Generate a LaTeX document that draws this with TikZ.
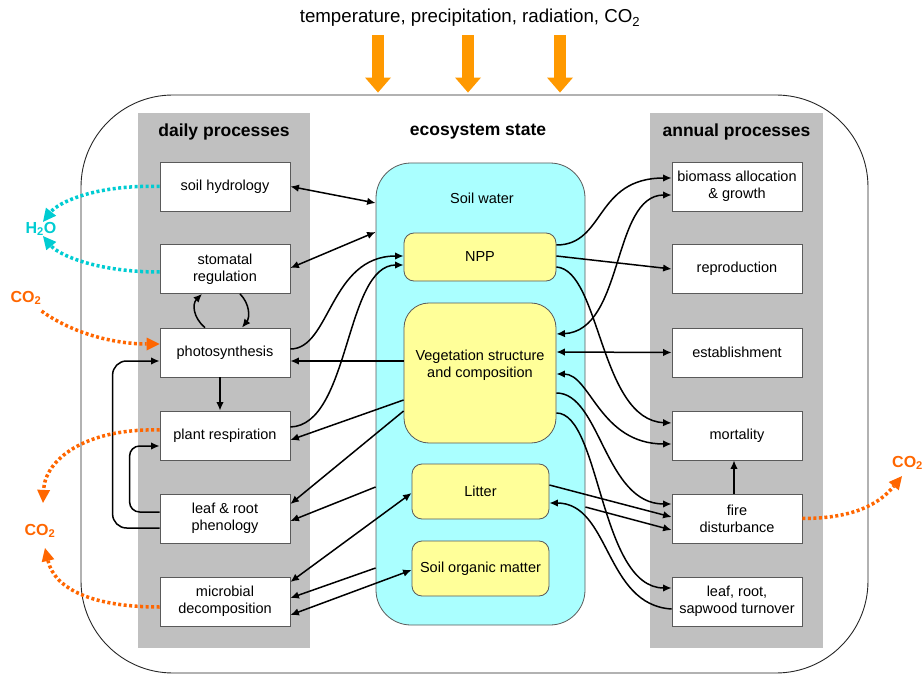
\documentclass[tikz,border=0pt]{standalone}
\usepackage{fontspec}
\setmainfont{Liberation Sans}
\usetikzlibrary{arrows.meta}
\definecolor{colgray}{RGB}{192,192,192}
\definecolor{cyanfill}{RGB}{170,255,255}
\definecolor{yel}{RGB}{255,255,153}
\definecolor{orng}{RGB}{255,153,0}
\definecolor{cotwo}{RGB}{255,102,0}
\definecolor{htwoo}{RGB}{0,204,210}
\definecolor{edgegray}{RGB}{90,90,90}
\begin{document}
\begin{tikzpicture}[x=1pt,y=-1pt,font=\fontsize{14.5}{17}\selectfont,
  procbox/.style={draw=edgegray,line width=0.8pt,fill=white,minimum width=130pt,minimum height=49pt,align=center,inner sep=1pt},
  column/.style={fill=colgray,draw=none,inner sep=0pt},
  heading/.style={font=\bfseries\fontsize{17.5}{20}\selectfont},
  statebox/.style={draw=edgegray,fill=yel,line width=0.8pt,rounded corners=10pt,align=center,inner sep=1pt},
  conn/.style={line width=1.5pt,-{Latex[length=8.5pt,width=7.5pt]}},
  biconn/.style={line width=1.5pt,{Latex[length=8.5pt,width=7.5pt]}-{Latex[length=8.5pt,width=7.5pt]}},
  dotco/.style={draw=cotwo,line width=3.5pt,dash pattern=on 3pt off 2.5pt,-{Triangle[length=13pt,width=13pt,line width=0pt]}},
  dothw/.style={draw=htwoo,line width=3.5pt,dash pattern=on 3pt off 2.5pt,-{Triangle[length=13pt,width=13pt,line width=0pt]}},
  bigarrow/.style={draw=orng,line width=12pt,-{Triangle[length=15pt,width=26pt,line width=0pt]}},
  gaslbl/.style={font=\bfseries\fontsize{16}{18}\selectfont,inner sep=0pt}]
\useasboundingbox (0,0) rectangle (922,674);

% outer ecosystem frame
\node[draw=black!85,line width=0.9pt,rounded corners=92pt,minimum width=787pt,minimum height=578pt,inner sep=0pt] (eco) at (474.5,384) {};

% title and forcing arrows
\node[font=\fontsize{18.7}{22}\selectfont] (title) at (470,18) {temperature, precipitation, radiation, CO\textsubscript{2}};
\draw[bigarrow] ([xshift=-92pt,yshift=-5pt]title.south) -- ([xshift=-96.5pt,yshift=2pt]eco.north);
\draw[bigarrow] ([xshift=-2pt,yshift=-5pt]title.south) -- ([xshift=-6.5pt,yshift=2pt]eco.north);
\draw[bigarrow] ([xshift=90pt,yshift=-5pt]title.south) -- ([xshift=85.5pt,yshift=2pt]eco.north);

% columns
\node[column,minimum width=172pt,minimum height=535pt] (dcol) at (224,380.5) {};
\node[column,minimum width=173pt,minimum height=535pt] (acol) at (736.5,380.5) {};
\node[heading] (hd) at (224,132) {daily processes};
\node[heading] (he) at (478,132) {ecosystem state};
\node[heading] (ha) at (736.5,132) {annual processes};

% daily process boxes
\node[procbox] (sh) at (225,186.5) {soil hydrology};
\node[procbox] (sr) at (225,269) {stomatal\\regulation};
\node[procbox] (ps) at (225,352.5) {photosynthesis};
\node[procbox] (pr) at (225,435.5) {plant respiration};
\node[procbox] (lr) at (225,518.5) {leaf \& root\\phenology};
\node[procbox] (md) at (225,601.5) {microbial\\decomposition};

% annual process boxes
\node[procbox] (ba) at (737,186.5) {biomass allocation\\\& growth};
\node[procbox] (rp) at (737,269) {reproduction};
\node[procbox] (es) at (737,352.5) {establishment};
\node[procbox] (mo) at (737,435.5) {mortality};
\node[procbox] (fd) at (737,518.5) {fire\\disturbance};
\node[procbox] (tu) at (737,601.5) {leaf, root,\\sapwood turnover};

% ecosystem state
\node[draw=edgegray,fill=cyanfill,line width=0.8pt,rounded corners=35pt,minimum width=209pt,minimum height=462pt,inner sep=0pt] (sw) at (480.5,394) {};
\node (swlbl) at (482,198) {Soil water};
\node[statebox,minimum width=152pt,minimum height=48pt] (npp) at (480,257) {NPP};
\node[statebox,rounded corners=25pt,minimum width=152pt,minimum height=140pt] (veg) at (480,373) {};
\node[align=center] (veglbl) at (480,365) {Vegetation structure\\and composition};
\node[statebox,minimum width=137pt,minimum height=55pt] (lit) at (480.5,491.5) {Litter};
\node[statebox,minimum width=137pt,minimum height=55pt] (som) at (480.5,568.5) {Soil organic matter};

% gas labels
\node[gaslbl,text=htwoo] (h2o) at (41,229) {H\textsubscript{2}O};
\node[gaslbl,text=cotwo] (co2a) at (26,298) {CO\textsubscript{2}};
\node[gaslbl,text=cotwo] (co2b) at (40,531) {CO\textsubscript{2}};
\node[gaslbl,text=cotwo,anchor=west] (co2c) at (892,463) {CO\textsubscript{2}};

% left connectors
\draw[biconn] (sh.east) -- ([yshift=191pt]sw.west);
\draw[biconn] ([yshift=1pt]sr.east) -- ([yshift=162pt]sw.west);
\draw[conn] ([yshift=3.5pt]ps.east) .. controls +(40,0) and +(-74,0) .. ([yshift=1pt]npp.west);
\draw[conn] ([yshift=8.5pt]pr.east) .. controls +(60,-2) and +(-59,0) .. ([yshift=-8pt]npp.west);
\draw[conn] ([yshift=12pt]veg.west) -- ([yshift=-8.5pt]ps.east);
\draw[conn] ([yshift=-27pt]veg.west) -- ([yshift=-4.5pt]pr.east);
\draw[conn] ([yshift=-38pt]veg.west) -- ([yshift=14.5pt]lr.east);
\draw[conn] ([yshift=-93pt]sw.west) -- ([yshift=-2.5pt]lr.east);
\draw[biconn] ([yshift=-1.5pt]lit.west) -- ([yshift=19.5pt]md.east);
\draw[conn] ([yshift=-174pt]sw.west) -- ([yshift=3.5pt]md.east);
\draw[biconn] ([yshift=-1.5pt]som.west) -- ([yshift=-13.5pt]md.east);

% left internal
\draw[conn] ([xshift=-5pt]ps.south) -- ([xshift=-5pt]pr.north);
\draw[conn] ([xshift=-20pt]ps.north) .. controls +(-12,-10) and +(-10,10) .. ([xshift=-23pt]sr.south);
\draw[conn] ([xshift=15pt]sr.south) .. controls +(10,10) and +(8,-10) .. ([xshift=17pt]ps.north);
\draw[conn,rounded corners=14pt] ([yshift=-9.5pt]lr.west) -| ([xshift=-47pt,yshift=-8.5pt]ps.west) -- ([yshift=-8.5pt]ps.west);
\draw[conn,rounded corners=10pt] ([yshift=6.5pt]lr.west) -| ([xshift=-30pt,yshift=-10.5pt]pr.west) -- ([yshift=-10.5pt]pr.west);

% gas fluxes
\draw[dothw] (sh.west) .. controls +(-65,-2) and +(15,-19) .. ([xshift=2pt]h2o.north);
\draw[dothw] ([yshift=-3pt]sr.west) .. controls +(-65,0) and +(15,18) .. ([xshift=2pt]h2o.south);
\draw[dotco] ([yshift=-6pt]co2a.south east) .. controls +(35,25) and +(-40,0) .. ([yshift=8.5pt]ps.west);
\draw[dotco] ([yshift=5.5pt]pr.west) .. controls +(-75,-2) and +(2,-43) .. ([xshift=3pt,yshift=21pt]co2b.north);
\draw[dotco] ([yshift=-5.5pt]md.west) .. controls +(-65,0) and +(10,42) .. ([xshift=5pt,yshift=-10pt]co2b.south);
\draw[dotco] (fd.east) .. controls +(60,0) and +(-18,22) .. ([xshift=10pt,yshift=-6pt]co2c.south west);

% right connectors
\draw[conn] ([yshift=12pt]npp.east) .. controls +(49,0) and +(-77,0) .. ([yshift=8.5pt]ba.west);
\draw[biconn] ([yshift=39pt]veg.east) .. controls +(68,-3) and +(-60,0) .. ([yshift=-8.5pt]ba.west);
\draw[conn] ([yshift=1pt]npp.east) -- (rp.west);
\draw[conn] ([yshift=-10pt]npp.east) .. controls +(44,3) and +(-72,-3) .. ([yshift=12.5pt]mo.west);
\draw[biconn] ([yshift=21pt]veg.east) -- ([yshift=0pt]es.west);
\draw[biconn] ([yshift=-1pt]veg.east) .. controls +(34,0) and +(-72,0) .. ([yshift=-8.5pt]mo.west);
\draw[conn] ([yshift=-20pt]veg.east) .. controls +(44,0) and +(-67,0) .. ([yshift=14.5pt]fd.west);
\draw[conn] ([yshift=-40pt]veg.east) .. controls +(44,0) and +(-72,0) .. ([yshift=13.5pt]tu.west);
\draw[conn] ([yshift=6.5pt]lit.east) -- ([yshift=1.5pt]fd.west);
\draw[conn] ([yshift=-113pt]sw.east) -- ([yshift=-11.5pt]fd.west);
\draw[conn] ([yshift=-7.5pt]tu.west) .. controls +(-67,-4) and +(61,0) .. ([yshift=-11.5pt]lit.east);
\draw[conn] ([xshift=-3pt]fd.north) -- ([xshift=-3pt]mo.south);
\end{tikzpicture}
\end{document}
